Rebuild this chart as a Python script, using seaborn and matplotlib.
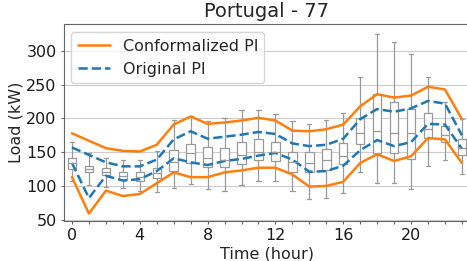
import numpy as np
import pandas as pd
import matplotlib
matplotlib.use("Agg")
import matplotlib.pyplot as plt
import seaborn as sns

# hourly values (kW)
hours = list(range(24))

conf_upper = [178, 167, 156, 152, 151, 161, 191, 203, 192, 194, 197, 201,
              197, 182, 181, 184, 191, 218, 236, 231, 234, 247, 243, 199]
conf_lower = [113, 59, 93, 85, 88, 104, 120, 113, 113, 120, 123, 127,
              127, 117, 99, 100, 106, 134, 147, 137, 144, 171, 169, 134]
orig_upper = [157, 146, 135, 129, 129, 139, 169, 181, 170, 173, 176, 180,
              177, 163, 159, 161, 170, 199, 214, 210, 215, 226, 222, 175]
orig_lower = [134, 82, 115, 108, 110, 122, 141, 135, 131, 137, 140, 145,
              149, 139, 121, 122, 130, 153, 168, 159, 165, 192, 191, 155]

# box summary per hour: whisker low, q1, median, q3, whisker high
whis_lo = [108, 102, 99, 97, 92, 91, 97, 103, 96, 92, 101, 108,
           108, 93, 81, 82, 90, 121, 105, 104, 96, 130, 138, 118]
q1 = [125, 120, 116, 109, 108, 112, 122, 134, 128, 128, 133, 139,
      137, 121, 121, 124, 132, 162, 149, 149, 140, 171, 165, 146]
med = [134, 125, 121, 114, 113, 119, 136, 149, 142, 139, 146, 150,
       150, 136, 134, 139, 145, 178, 182, 178, 179, 185, 176, 156]
q3 = [142, 130, 126, 121, 120, 126, 153, 162, 157, 156, 165, 169,
      165, 151, 150, 155, 163, 201, 236, 225, 214, 208, 189, 169]
whis_hi = [165, 149, 141, 139, 139, 152, 198, 204, 197, 201, 212, 212,
           207, 196, 192, 198, 208, 261, 326, 314, 295, 262, 224, 199]

sns.set_style("whitegrid", {
    "axes.edgecolor": "0.4",
    "grid.color": "0.8",
    "xtick.bottom": True,
    "ytick.left": True,
    "xtick.color": "0.4",
    "ytick.color": "0.4",
})
plt.rcParams["font.family"] = ["DejaVu Sans"]

# long-form table for the boxes (5 points per hour give exact quartiles)
box_df = pd.DataFrame({
    "hour": np.repeat(hours, 5),
    "load": np.column_stack([whis_lo, q1, med, q3, whis_hi]).ravel(),
})

fig = plt.figure(figsize=(4.67, 2.61), dpi=100)
ax = fig.add_axes([0.136, 0.152, 0.8713, 0.755])

sns.boxplot(data=box_df, x="hour", y="load", ax=ax, color="white",
            linecolor="0.6", linewidth=0.9, width=0.5, whis=(0, 100),
            fliersize=0)

line_df = pd.DataFrame({"hour": hours, "cu": conf_upper, "cl": conf_lower,
                        "ou": orig_upper, "ol": orig_lower})
sns.lineplot(data=line_df, x="hour", y="cu", ax=ax, color="tab:orange",
             lw=1.8, label="Conformalized PI")
sns.lineplot(data=line_df, x="hour", y="cl", ax=ax, color="tab:orange", lw=1.8)
sns.lineplot(data=line_df, x="hour", y="ou", ax=ax, color="tab:blue",
             lw=1.8, ls="--", label="Original PI")
sns.lineplot(data=line_df, x="hour", y="ol", ax=ax, color="tab:blue",
             lw=1.8, ls="--")

ax.set_xlim(-0.5, 23.5)
ax.set_ylim(47.5, 339.7)
ax.set_yticks([50, 100, 150, 200, 250, 300])
ax.set_xticks(hours)
ax.set_xticklabels([str(h) if h % 4 == 0 else "" for h in hours])
ax.tick_params(labelsize=11.5, labelcolor="0.1", length=2.5, width=0.8, pad=2.5)
ax.xaxis.grid(False)

ax.set_xlabel("Time (hour)", fontsize=11.5, labelpad=2)
ax.set_ylabel("Load (kW)", fontsize=11.5, labelpad=2)
ax.set_title("Portugal - 77", fontsize=14, pad=5)
ax.legend(loc="upper left", fontsize=11.5, framealpha=0.8)

fig.savefig("out.png", dpi=100)
